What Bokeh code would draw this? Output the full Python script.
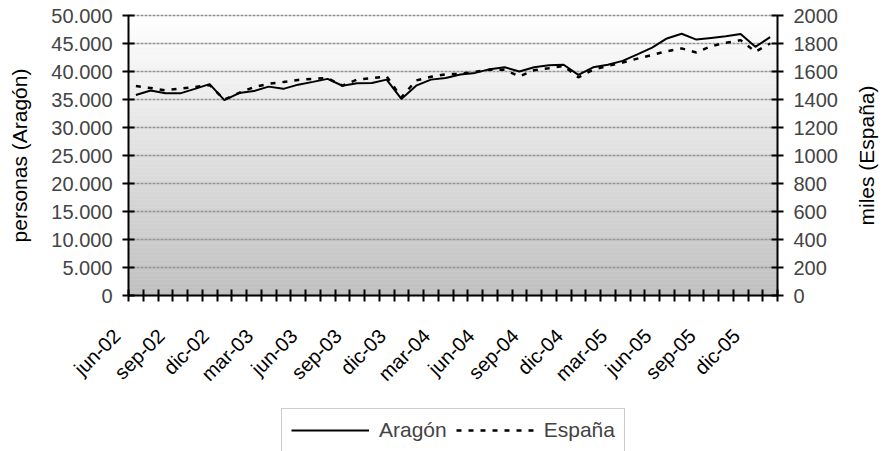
import math
from bokeh.plotting import figure
from bokeh.models import (Range1d, LinearAxis, FixedTicker, Legend, LegendItem,
                          ColumnDataSource, Label)
from bokeh.embed import file_html
from bokeh.resources import INLINE

# ---------------- data ----------------
months = ["jun-02", "jul-02", "ago-02", "sep-02", "oct-02", "nov-02", "dic-02",
          "ene-03", "feb-03", "mar-03", "abr-03", "may-03", "jun-03", "jul-03",
          "ago-03", "sep-03", "oct-03", "nov-03", "dic-03", "ene-04", "feb-04",
          "mar-04", "abr-04", "may-04", "jun-04", "jul-04", "ago-04", "sep-04",
          "oct-04", "nov-04", "dic-04", "ene-05", "feb-05", "mar-05", "abr-05",
          "may-05", "jun-05", "jul-05", "ago-05", "sep-05", "oct-05", "nov-05",
          "dic-05", "ene-06"]

aragon = [35800, 36600, 36100, 36100, 36900, 37750, 34900, 36150, 36500, 37300,
          36900, 37650, 38150, 38680, 37450, 37900, 37930, 38550, 35100, 37470,
          38550, 38850, 39450, 39750, 40420, 40750, 40000, 40750, 41100, 41200,
          39400, 40750, 41200, 41900, 43050, 44250, 45900, 46750, 45700, 46000,
          46300, 46700, 44400, 46150]

espana = [1496, 1482, 1466, 1478, 1489, 1503, 1400, 1447, 1488, 1512,
          1525, 1540, 1547, 1553, 1499, 1542, 1553, 1565, 1415, 1536,
          1562, 1580, 1584, 1598, 1612, 1612, 1565, 1609, 1624, 1640,
          1558, 1612, 1640, 1664, 1692, 1718, 1745, 1765, 1736, 1781,
          1805, 1824, 1741, 1800]

tick_labels = ["jun-02", "sep-02", "dic-02", "mar-03", "jun-03", "sep-03", "dic-03",
               "mar-04", "jun-04", "sep-04", "dic-04", "mar-05", "jun-05", "sep-05",
               "dic-05"]

left_ticks = list(range(0, 50001, 5000))
right_ticks = list(range(0, 2001, 200))
LEFT_MAX, RIGHT_MAX = 50000, 2000

# ---------------- layout constants (pixels) ----------------
FONT = "Liberation Sans"
W, H = 892, 451
FL, FT, FW, FH = 128, 15, 649, 280      # plot area (left, top, width, height)
FB = H - FT - FH                         # space below plot area
n = len(months)
ppc = FW / n                             # pixels per category
x = [i + 0.5 for i in range(n)]

def span(maxv):
    per_px = maxv / FH
    return Range1d(-FB * per_px, maxv + FT * per_px)

# whole canvas is the frame; the plot area is mapped inside it
p = figure(width=W, height=H, x_range=Range1d(-FL / ppc, (W - FL) / ppc),
           y_range=span(LEFT_MAX), x_axis_type=None, y_axis_type=None,
           output_backend="svg", toolbar_location=None,
           min_border_left=0, min_border_right=0, min_border_top=0, min_border_bottom=0)
p.extra_y_ranges = {"esp": span(RIGHT_MAX)}
p.outline_line_color = None
p.background_fill_color = "white"
p.border_fill_color = "white"

# gradient background of the plot area (white top -> grey bottom)
steps = 70
hh = LEFT_MAX / steps
bots = [k * hh for k in range(steps)]
tops = [(k + 1) * hh for k in range(steps)]
cols = []
for k in range(steps):
    t = (k + 0.5) / steps
    c = int(round(192 + (255 - 192) * t))
    cols.append("#%02x%02x%02x" % (c, c, c))
p.quad(left=0, right=n, bottom=bots, top=tops, fill_color=cols, line_color=cols,
       line_width=0.5)

# horizontal grid lines
p.segment(x0=[0] * len(left_ticks), x1=[n] * len(left_ticks), y0=left_ticks,
          y1=left_ticks, line_color="#939393", line_dash="3 1", line_width=1.3)

# series
src = ColumnDataSource(dict(x=x, aragon=aragon, espana=espana))
r_ar = p.line("x", "aragon", source=src, line_color="black", line_width=2)
r_es = p.line("x", "espana", source=src, y_range_name="esp", line_color="black",
              line_width=2.5, line_dash="5 7")

# x axis: line + tick marks at category boundaries
xaxis = LinearAxis(ticker=FixedTicker(ticks=list(range(n + 1))), fixed_location=0,
                   bounds=(0, n), major_tick_in=6, major_tick_out=6,
                   major_tick_line_width=2, axis_line_width=2,
                   major_label_overrides={i: "" for i in range(n + 1)})
p.add_layout(xaxis, "below")

# x axis labels: rotated, every third month
shift = 19 / ppc
lab_pos = [x[i] - shift for i in range(0, n, 3)][:len(tick_labels)]
lab_axis = LinearAxis(ticker=FixedTicker(ticks=lab_pos), fixed_location=0,
                      major_label_overrides=dict(zip(lab_pos, tick_labels)),
                      bounds=(lab_pos[0] - 0.1, lab_pos[-1] + 0.1),
                      major_label_orientation=math.pi / 4,
                      major_label_standoff=37, major_tick_in=0, major_tick_out=0,
                      major_tick_line_color=None, minor_tick_line_color=None,
                      axis_line_color=None, major_label_text_font=FONT,
                      major_label_text_font_size="20px", major_label_text_color="black")
p.add_layout(lab_axis, "below")

overrides = {v: ("{:,}".format(v)).replace(",", ".") for v in left_ticks}
yl = LinearAxis(ticker=FixedTicker(ticks=left_ticks), major_label_overrides=overrides,
                fixed_location=0, bounds=(0, LEFT_MAX),
                major_label_text_font=FONT, major_label_text_font_size="20px",
                major_label_standoff=10, major_tick_in=6, major_tick_out=6,
                major_tick_line_width=2, axis_line_width=2, minor_tick_line_color=None)
p.add_layout(yl, "left")

yr = LinearAxis(y_range_name="esp", ticker=FixedTicker(ticks=right_ticks),
                fixed_location=n, bounds=(0, RIGHT_MAX),
                major_label_text_font=FONT, major_label_text_font_size="20px",
                major_label_standoff=10, major_tick_in=6, major_tick_out=6,
                major_tick_line_width=2, axis_line_width=2, minor_tick_line_color=None)
p.add_layout(yr, "right")

# axis titles (both read bottom-to-top)
mid_y = H - (FT + FH / 2)
p.add_layout(Label(x=19, y=mid_y, x_units="screen", y_units="screen",
                   text="personas (Aragón)", angle=math.pi / 2, text_align="center",
                   text_baseline="middle", text_font=FONT, text_font_size="21px",
                   text_color="black"))
p.add_layout(Label(x=866, y=mid_y, x_units="screen", y_units="screen",
                   text="miles (España)", angle=math.pi / 2, text_align="center",
                   text_baseline="middle", text_font=FONT, text_font_size="21px",
                   text_color="black"))

# legend (box continues past the bottom edge, as in the original)
legend = Legend(items=[LegendItem(label="Aragón", renderers=[r_ar]),
                       LegendItem(label="España", renderers=[r_es])],
                orientation="horizontal", location=(281, -1),
                label_text_font=FONT, label_text_font_size="21px",
                glyph_width=78, glyph_height=20, label_standoff=10, spacing=9,
                padding=9, margin=0, border_line_color="#9a9a9a", border_line_width=1,
                background_fill_color="white", background_fill_alpha=1)
p.add_layout(legend, "center")

open("out.html", "w").write(file_html(p, INLINE))
